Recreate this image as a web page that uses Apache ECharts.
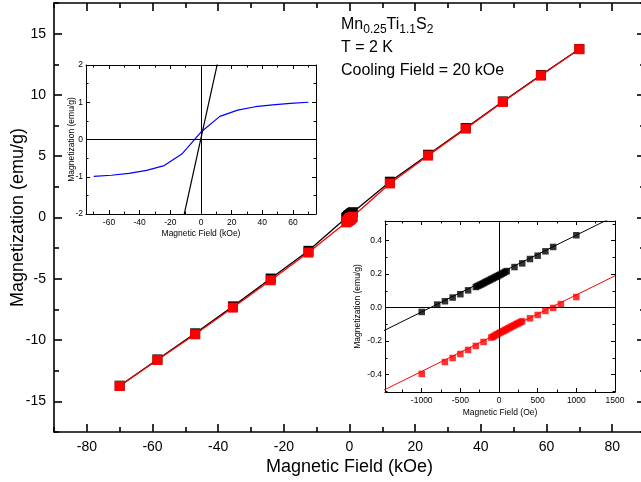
<!DOCTYPE html>
<html>
<head>
<meta charset="utf-8">
<script src="https://cdn.jsdelivr.net/npm/echarts@6/dist/echarts.min.js"></script>
<style>
  html, body { margin: 0; padding: 0; background: #fff; }
  #chart { width: 641px; height: 482px; }
</style>
</head>
<body>
<div id="chart"></div>
<script>
// high field points (kOe, emu/g)
const hfNegX = [-70, -58.5, -47, -35.5, -24, -12.5];
const hfNegBlack = [-13.72, -11.58, -9.45, -7.25, -4.98, -2.72];
const hfNegRed = [-13.75, -11.63, -9.53, -7.35, -5.12, -2.86];
const hfPosX = [12.3, 23.9, 35.4, 46.7, 58.3, 70];
const hfPosBlack = [2.92, 5.12, 7.3, 9.47, 11.62, 13.75];
const hfPosRed = [2.78, 5.05, 7.25, 9.43, 11.58, 13.73];

// low field points (Oe, emu/g)
const lowBlackX = [-1000, -800, -700, -600, -500, -400, -300, -280, -260, -240, -220, -200, -180, -160, -140, -120,
  -100, -80, -60, -40, -20, 0, 20, 40, 60, 80, 100, 200, 300, 400, 500, 600, 700, 1000];
const lowBlackY = [-0.026, 0.018, 0.038, 0.06, 0.08, 0.103, 0.123, 0.128, 0.132, 0.137, 0.141, 0.146, 0.151, 0.156, 0.16, 0.165,
  0.17, 0.174, 0.179, 0.184, 0.188, 0.193, 0.198, 0.203, 0.208, 0.213, 0.218, 0.242, 0.264, 0.29, 0.31, 0.336, 0.362, 0.432];
const lowRedX = [-1000, -700, -600, -500, -400, -300, -200, -100, -80, -60, -40, -20, 0, 20, 40, 60, 80, 100, 120, 140,
  160, 180, 200, 220, 240, 260, 280, 300, 400, 500, 600, 700, 800, 1000];
const lowRedY = [-0.396, -0.325, -0.301, -0.277, -0.253, -0.229, -0.205, -0.179, -0.174, -0.169, -0.163, -0.158, -0.153, -0.148, -0.143, -0.139,
  -0.134, -0.129, -0.124, -0.119, -0.114, -0.11, -0.105, -0.1, -0.095, -0.091, -0.086, -0.082, -0.064, -0.044, -0.02, -0.002, 0.021, 0.063];

// fitted lines in the low field inset
const fitX = [-1500, 1500];
const blackFitY = [-0.14, 0.547];
const redFitY = [-0.495, 0.19];

// inset 1: remaining curve (blue) and linear part (black)
const blueX = [-70, -58.5, -47, -35.5, -24, -12.5, 0, 12.3, 23.9, 35.4, 46.7, 58.3, 70];
const blueY = [-0.99, -0.96, -0.91, -0.83, -0.70, -0.39, 0.2, 0.62, 0.79, 0.88, 0.93, 0.97, 1.0];
const linX = [-12, 12];
const linY = [-2.2, 2.28];

// ticks
const mainXMajor = [-80, -60, -40, -20, 0, 20, 40, 60, 80];
const mainXMinor = [-90, -70, -50, -30, -10, 10, 30, 50, 70, 90];
const mainYMajor = [-15, -10, -5, 0, 5, 10, 15];
const mainYMinor = [-17.5, -12.5, -7.5, -2.5, 2.5, 7.5, 12.5, 17.5];
const in1XMajor = [-60, -40, -20, 0, 20, 40, 60];
const in1XMinor = [-70, -50, -30, -10, 10, 30, 50, 70];
const in1YMajor = [-2, -1, 0, 1, 2];
const in1YMinor = [-1.5, -0.5, 0.5, 1.5];
const in2XMajor = [-1000, -500, 0, 500, 1000, 1500];
const in2XMinor = [-1250, -750, -250, 250, 750, 1250];
const in2YMajor = [-0.4, -0.2, 0, 0.2, 0.4];
const in2YMinor = [-0.5, -0.3, -0.1, 0.1, 0.3, 0.5];

const FONT = '"Liberation Sans", Arial, sans-serif';

function pairs(xs, ys, k) {
  return xs.map((x, i) => [x * (k || 1), ys[i]]);
}

// two axes per side: one with long (major) ticks and labels, one with short (minor) ticks
function makeAxes(dim, gi, range, major, minor, lens, lw, label, name) {
  const pos = dim === 'x' ? ['bottom', 'top'] : ['left', 'right'];
  const out = [];
  pos.forEach((p, k) => {
    out.push({
      type: 'value', gridIndex: gi, position: p, min: range[0], max: range[1],
      axisLine: { show: true, onZero: false, lineStyle: { color: '#000', width: lw } },
      axisTick: { show: true, inside: true, length: lens[0], customValues: major, lineStyle: { color: '#000', width: lw } },
      axisLabel: k === 0 ? {
        show: true, customValues: major, color: '#000', fontFamily: FONT,
        fontSize: label.size, margin: label.margin, formatter: label.fmt
      } : { show: false },
      splitLine: { show: false },
      name: k === 0 ? name.text : '',
      nameLocation: 'middle',
      nameGap: name.gap,
      nameMoveOverlap: false,
      nameRotate: dim === 'y' ? 90 : 0,
      nameTextStyle: { color: '#000', fontFamily: FONT, fontSize: name.size }
    });
    out.push({
      type: 'value', gridIndex: gi, position: p, min: range[0], max: range[1],
      axisLine: { show: false, onZero: false },
      axisTick: { show: true, inside: true, length: lens[1], customValues: minor, lineStyle: { color: '#000', width: lw } },
      axisLabel: { show: false },
      splitLine: { show: false }
    });
  });
  return out;
}

const xAxes = [].concat(
  makeAxes('x', 0, [-90, 90], mainXMajor, mainXMinor, [8, 5], 1.6,
    { size: 14, margin: 8, fmt: v => String(v) }, { text: 'Magnetic Field (kOe)', gap: 26, size: 18 }),
  makeAxes('x', 1, [-75, 75], in1XMajor, in1XMinor, [4, 2.5], 1,
    { size: 8.5, margin: 4, fmt: v => String(v) }, { text: 'Magnetic Field (kOe)', gap: 15, size: 8.5 }),
  makeAxes('x', 2, [-1475, 1500], in2XMajor, in2XMinor, [4, 2.5], 1,
    { size: 8.5, margin: 4, fmt: v => String(v) }, { text: 'Magnetic Field (Oe)', gap: 16, size: 8.5 })
);
const yAxes = [].concat(
  makeAxes('y', 0, [-17.5, 17.5], mainYMajor, mainYMinor, [8, 5], 1.6,
    { size: 14, margin: 8, fmt: v => String(v) }, { text: 'Magnetization (emu/g)', gap: 27, size: 18 }),
  makeAxes('y', 1, [-2, 2], in1YMajor, in1YMinor, [4, 2.5], 1,
    { size: 8.5, margin: 3, fmt: v => String(v) }, { text: 'Magnetization (emu/g)', gap: 10, size: 8.5 }),
  makeAxes('y', 2, [-0.504, 0.517], in2YMajor, in2YMinor, [4, 2.5], 1,
    { size: 8.5, margin: 3, fmt: v => v.toFixed(1) }, { text: 'Magnetization (emu/g)', gap: 23, size: 8.5 })
);

const mainBlack = pairs(hfNegX, hfNegBlack).concat(pairs(lowBlackX, lowBlackY, 0.001), pairs(hfPosX, hfPosBlack));
const mainRed = pairs(hfNegX, hfNegRed).concat(pairs(lowRedX, lowRedY, 0.001), pairs(hfPosX, hfPosRed));

const zeroLines = {
  silent: true, symbol: 'none', label: { show: false },
  lineStyle: { color: '#000', width: 1, type: 'solid' },
  data: [{ xAxis: 0 }, { yAxis: 0 }]
};

const chart = echarts.init(document.getElementById('chart'), null, { renderer: 'canvas' });
chart.setOption({
  animation: false,
  backgroundColor: '#fff',
  grid: [
    { left: 54, top: 3, width: 591, height: 429, outerBoundsMode: 'none', containLabel: false },
    { left: 86, top: 65, width: 230, height: 149, show: true, backgroundColor: '#fff', borderWidth: 0,
      outerBoundsMode: 'none', containLabel: false },
    { left: 385, top: 221, width: 230, height: 171, show: true, backgroundColor: '#fff', borderWidth: 0,
      outerBoundsMode: 'none', containLabel: false }
  ],
  xAxis: xAxes,
  yAxis: yAxes,
  graphic: [{
    type: 'text', left: 341, top: 15,
    style: {
      text: '{n|Mn}{s|0.25}{n|Ti}{s|1.1}{n|S}{s|2}\n{n|T = 2 K}\n{n|Cooling Field = 20 kOe}',
      fill: '#000', font: '16px ' + FONT,
      rich: {
        n: { fontSize: 16, fontFamily: FONT, lineHeight: 23, verticalAlign: 'top', padding: [2, 0, 0, 0] },
        s: { fontSize: 12, fontFamily: FONT, lineHeight: 23, verticalAlign: 'top', padding: [9, 0, 0, 0] }
      }
    }
  }],
  series: [
    {
      type: 'line', xAxisIndex: 0, yAxisIndex: 0, data: mainBlack,
      symbol: 'rect', symbolSize: 10, itemStyle: { color: '#000' },
      lineStyle: { color: '#000', width: 1.3 }
    },
    {
      type: 'line', xAxisIndex: 0, yAxisIndex: 0, data: mainRed,
      symbol: 'rect', symbolSize: 10, itemStyle: { color: '#ff0000' },
      lineStyle: { color: '#ff0000', width: 1.3 }
    },
    {
      type: 'line', xAxisIndex: 4, yAxisIndex: 4, data: pairs(blueX, blueY),
      symbol: 'none', lineStyle: { color: '#0000ff', width: 1.2 }, markLine: zeroLines
    },
    {
      type: 'line', xAxisIndex: 4, yAxisIndex: 4, data: pairs(linX, linY), clip: true,
      symbol: 'none', lineStyle: { color: '#000', width: 1.2 }
    },
    {
      type: 'line', xAxisIndex: 8, yAxisIndex: 8, data: pairs(fitX, blackFitY), clip: true,
      symbol: 'none', lineStyle: { color: '#000', width: 1 }, markLine: zeroLines
    },
    {
      type: 'line', xAxisIndex: 8, yAxisIndex: 8, data: pairs(fitX, redFitY), clip: true,
      symbol: 'none', lineStyle: { color: '#ff0000', width: 1 }
    },
    {
      type: 'scatter', xAxisIndex: 8, yAxisIndex: 8, data: pairs(lowBlackX, lowBlackY),
      symbol: 'rect', symbolSize: 6.5, itemStyle: { color: '#000' }
    },
    {
      type: 'scatter', xAxisIndex: 8, yAxisIndex: 8, data: pairs(lowRedX, lowRedY),
      symbol: 'rect', symbolSize: 6.5, itemStyle: { color: '#ff0000' }
    }
  ]
});
</script>
</body>
</html>
